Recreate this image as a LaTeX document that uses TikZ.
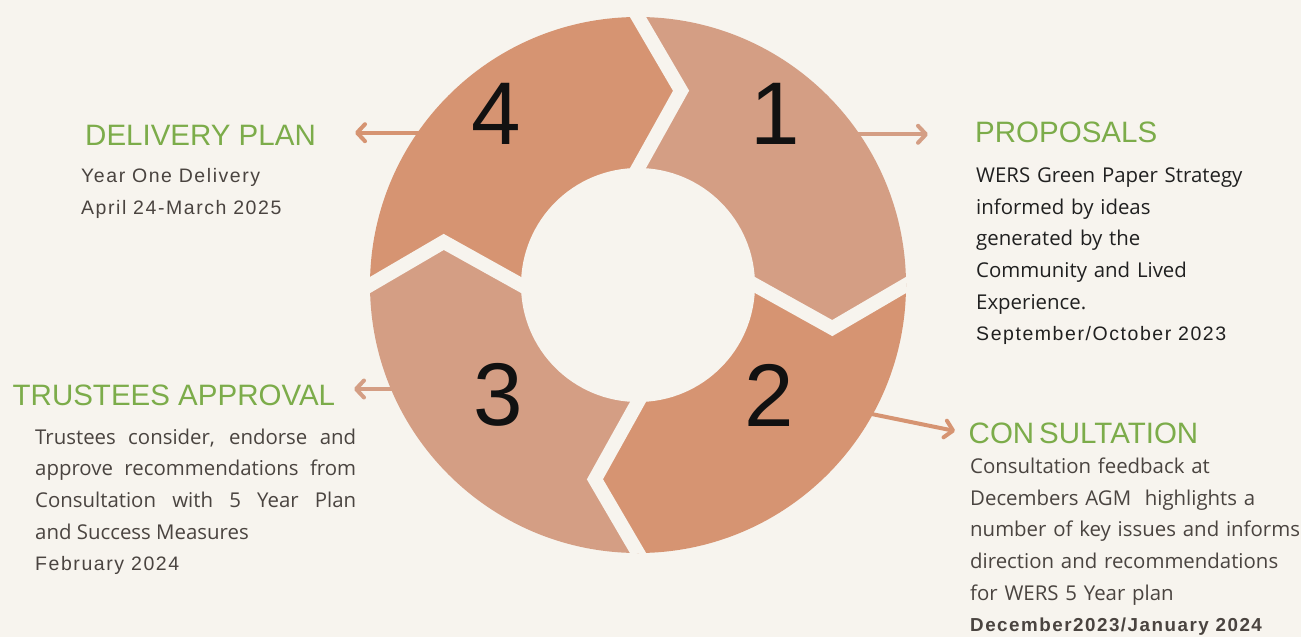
\documentclass[tikz,border=0pt]{standalone}
\usepackage{fontspec}
\setmainfont{Open Sans}
\newfontfamily\headfont{Liberation Sans}
\newfontfamily\datefont{Liberation Sans}[LetterSpace=8]
\newcommand\datestyle{\datefont\fontsize{19.5}{31.7}\selectfont}
\usepackage{tikz}
\usetikzlibrary{arrows.meta,positioning}
\definecolor{paper}{RGB}{247,244,238}
\definecolor{seglight}{RGB}{212,158,132}
\definecolor{segdark}{RGB}{214,148,114}
\definecolor{leafgreen}{RGB}{124,172,74}
\definecolor{ink}{RGB}{74,68,64}
\definecolor{darkink}{RGB}{32,32,32}
\definecolor{numink}{RGB}{17,17,17}

\begin{document}
\begin{tikzpicture}[x=1pt,y=-1pt,
   gap/.style={draw=paper,line width=14pt,line join=miter},
   link/.style={draw=#1,line width=4pt,line cap=round,-{Straight Barb[length=8pt,width=17pt,round]}},
   heading/.style={anchor=base west,inner sep=0pt,text=leafgreen,font=\headfont\fontsize{29.5}{30}\selectfont},
   body/.style={anchor=base west,inner sep=0pt,text width=400pt,align=left,font=\fontsize{20.4}{31.7}\selectfont},
   numeral/.style={inner sep=0pt,text=numink,font=\headfont\fontsize{89}{89}\selectfont}]
 \useasboundingbox[fill=paper] (0,0) rectangle (1301,637);
 \coordinate (p1) at (840,134.3);  \coordinate (q1) at (928,134.3);
 \coordinate (p2) at (850,409.6);  \coordinate (q2) at (955,431);
 \coordinate (p3) at (410,389);    \coordinate (q3) at (354,389);
 \coordinate (p4) at (435,132.7);  \coordinate (q4) at (355,132.7);
 \draw[link=seglight] (p1) -- (q1);
 \draw[link=segdark] (p2) -- (q2);
 \draw[link=seglight] (p3) -- (q3);
 \draw[link=segdark] (p4) -- (q4);
 \begin{scope}[shift={(638,285)}]
  \clip (0,0) circle (268);
  \fill[seglight] (262.2:94.7) -- (282.5:199) -- (267.45:290.4) -- (315:420) -- (357.45:290.4)
     -- (12.5:199) -- (352.2:94.7) -- (315:40) -- cycle;
  \fill[segdark] (352.2:94.7) -- (12.5:199) -- (357.45:290.4) -- (45:420) -- (87.45:290.4)
     -- (102.5:199) -- (82.2:94.7) -- (45:40) -- cycle;
  \fill[seglight] (82.2:94.7) -- (102.5:199) -- (87.45:290.4) -- (135:420) -- (177.45:290.4)
     -- (192.5:199) -- (172.2:94.7) -- (135:40) -- cycle;
  \fill[segdark] (172.2:94.7) -- (192.5:199) -- (177.45:290.4) -- (225:420) -- (267.45:290.4)
     -- (282.5:199) -- (262.2:94.7) -- (225:40) -- cycle;
  \draw[gap] (262.2:94.7) -- (282.5:199) -- (267.45:290.4);
  \draw[gap] (352.2:94.7) -- (12.5:199) -- (357.45:290.4);
  \draw[gap] (82.2:94.7) -- (102.5:199) -- (87.45:290.4);
  \draw[gap] (172.2:94.7) -- (192.5:199) -- (177.45:290.4);
  \fill[paper] (0,0) circle (117);
 \end{scope}
 \node[numeral] (n1) at (775,114) {1};
 \node[numeral] (n2) at (769,395) {2};
 \node[numeral] (n3) at (498.5,395) {3};
 \node[numeral] (n4) at (496,114) {4};
 \node[heading] (prop) at (975,142.3) {PROPOSALS};
 \node[body,text=darkink] (proptxt) at (976,182.3) {WERS Green Paper Strategy\\ informed by ideas\\
   generated by the\\ Community and Lived\\ Experience.\\ {\datestyle September/October 2023}};
 \node[heading] (cons) at (968.5,443.3) {CON\kern5pt SULTATION};
 \node[body,text=ink] (constxt) at (970,473.3) {Consultation feedback at\\ Decembers AGM\ \ highlights a\\
   number of key issues and informs\\ direction and recommendations\\ for WERS 5 Year plan\\
   {\datestyle\fontsize{18.8}{31.7}\selectfont\bfseries December2023/January 2024}};
 \node[heading] (trust) at (12.5,405.7) {TRUSTEES APPROVAL};
 \node[body,text=ink,text width=321pt,align=justify] (trusttxt) at (35,444) {Trustees consider, endorse and\linebreak
   approve recommendations from\linebreak Consultation with 5 Year Plan\linebreak and Success Measures\\
   {\datestyle February 2024}};
 \node[heading] (plan) at (85,145) {DELIVERY PLAN};
 \node[body,text=ink] (plantxt) at (81,182.7) {\datestyle Year One Delivery\\ April 24-March 2025};
\end{tikzpicture}
\end{document}
